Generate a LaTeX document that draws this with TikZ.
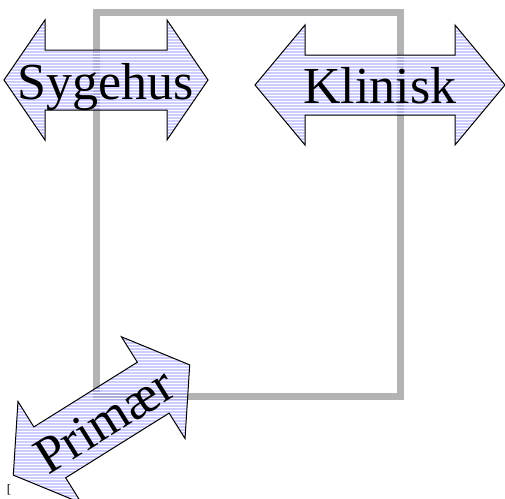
\documentclass[tikz,border=0pt]{standalone}
\usepackage{fontspec}
\setmainfont{Liberation Serif}
\usetikzlibrary{patterns}
\definecolor{arrowblue}{HTML}{AAAAFF}
\definecolor{framegray}{HTML}{B3B3B3}
\tikzset{
  arrowshape/.style={draw=black, line width=1pt, line join=miter,
    preaction={fill=arrowblue, fill opacity=0.6},
    pattern=horizontal lines, pattern color=white},
  frame/.style={draw=framegray, line width=7pt},
  lbl/.style={font=\fontsize{52}{60}\selectfont, inner sep=0pt, anchor=base}
}
\newcommand\mydblarrow[2]{%
  \path[arrowshape] (-#1,0) -- (-#1+#2,-60) -- (-#1+#2,-30) -- (#1-#2,-30)
    -- (#1-#2,-60) -- (#1,0) -- (#1-#2,60) -- (#1-#2,30) -- (-#1+#2,30)
    -- (-#1+#2,60) -- cycle;}
\begin{document}
\begin{tikzpicture}[x=1pt,y=-1pt]
\useasboundingbox (0,0) rectangle (505,498);
\draw[frame] (96,12) rectangle (400,396);
% Sygehus
\begin{scope}[shift={(106,80)}]
  \mydblarrow{102}{41}
  \node[lbl] (sygehus) at (0,19) {Sygehus};
\end{scope}
% Klinisk
\begin{scope}[shift={(380,85)}]
  \mydblarrow{125}{50}
  \node[lbl] (klinisk) at (0,18) {Klinisk};
\end{scope}
% Primaer
\begin{scope}[shift={(101.5,420)},rotate=32]
  \mydblarrow{104}{43}
  \node[lbl,rotate=32] (primaer) at (2,19) {Primær};
\end{scope}
\node[font=\fontsize{13}{14}\selectfont, inner sep=0pt] (br) at (9,490) {[};
\end{tikzpicture}
\end{document}
